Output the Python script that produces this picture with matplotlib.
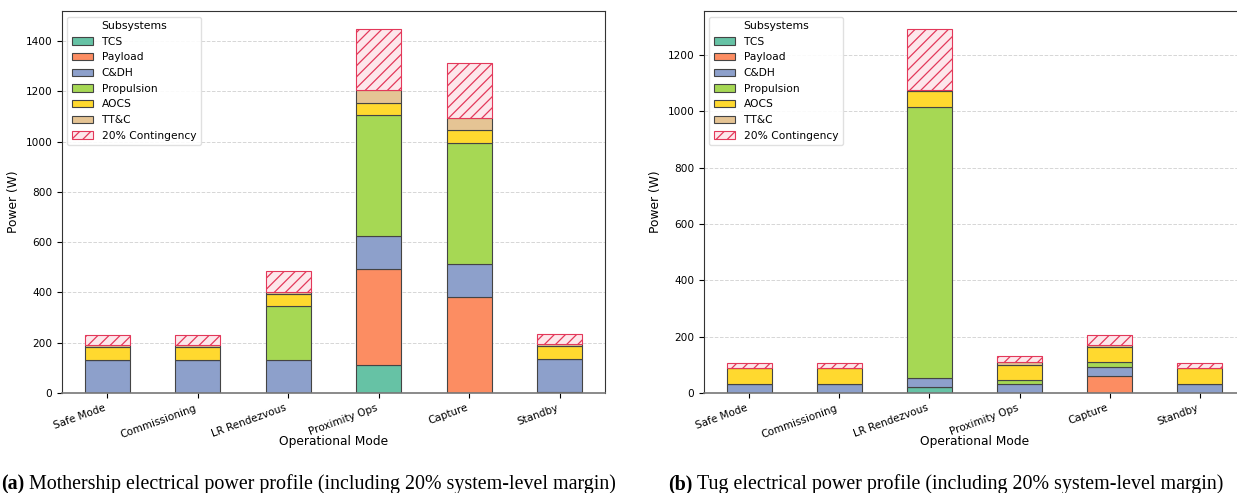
import numpy as np
import matplotlib
matplotlib.use("Agg")
import matplotlib.pyplot as plt
from matplotlib.patches import Patch

# Operational modes and subsystem breakdown (W)
modes = ["Safe Mode", "Commissioning", "LR Rendezvous", "Proximity Ops", "Capture", "Standby"]
subsystems = ["TCS", "Payload", "C&DH", "Propulsion", "AOCS", "TT&C"]
margin_fraction = 0.20

# Mothership
ms_tcs = [0, 0, 0, 110, 0, 3]
ms_payload = [0, 0, 0, 382, 382, 0]
ms_cdh = [133, 133, 133, 132, 133, 131]
ms_propulsion = [0, 0, 212, 481, 480, 0]
ms_aocs = [50, 50, 50, 50, 50, 52]
ms_ttc = [8, 8, 8, 50, 50, 9]

# Tug
tug_tcs = [0, 0, 22, 0, 0, 0]
tug_payload = [0, 0, 0, 0, 60, 0]
tug_cdh = [32, 32, 31, 32, 33, 32]
tug_propulsion = [0, 0, 963, 15, 16, 0]
tug_aocs = [56, 56, 56, 54, 55, 56]
tug_ttc = [2, 2, 3, 9, 8, 2]

colors = ["#66c2a5", "#fc8d62", "#8da0cb", "#a6d854", "#ffd92f", "#e5c494"]
cont_face = "#fde7eb"
cont_edge = "#e3385a"

plt.rcParams["hatch.linewidth"] = 0.9

W, H, DPI = 1237, 493, 100
fig = plt.figure(figsize=(W / DPI, H / DPI), dpi=DPI)


def power_panel(ax, layers):
    x = np.arange(len(modes))
    bottom = np.zeros(len(modes))
    for vals, col, name in zip(layers, colors, subsystems):
        vals = np.asarray(vals, dtype=float)
        ax.bar(x, vals, 0.5, bottom=bottom, color=col, edgecolor="#444444",
               linewidth=0.8, label=name, zorder=2)
        bottom += vals
    contingency = bottom * margin_fraction
    ax.bar(x, contingency, 0.5, bottom=bottom, facecolor=cont_face,
           edgecolor=cont_edge, hatch="///", linewidth=0.8, zorder=2)
    ax.set_xlim(-0.5, 5.5)
    ax.set_xticks(x)
    ax.set_xticklabels(modes, rotation=20, ha="right", fontsize=7.5)
    ax.tick_params(axis="y", labelsize=7.6)
    ax.set_xlabel("Operational Mode", fontsize=8.8, labelpad=-3)
    ax.set_ylabel("Power (W)", fontsize=8.8)
    ax.grid(axis="y", linestyle="--", color="#cccccc", linewidth=0.7, alpha=0.8)
    ax.set_axisbelow(True)
    for s in ax.spines.values():
        s.set_color("#333333")
    ax.spines["bottom"].set_color("#777777")
    ax.spines["bottom"].set_linewidth(1.2)
    handles = [Patch(facecolor=c, edgecolor="#444444", linewidth=0.8) for c in colors]
    handles.append(Patch(facecolor=cont_face, edgecolor=cont_edge, hatch="///", linewidth=0.8))
    labels = subsystems + ["20% Contingency"]
    ax.legend(handles, labels, title="Subsystems", loc="upper left", fontsize=7.7,
              title_fontsize=7.8, framealpha=0.9, edgecolor="#dddddd",
              handlelength=2.0, handleheight=0.7, labelspacing=0.53,
              borderpad=0.42)


ax1 = fig.add_axes([62 / W, 1 - 393 / H, (605 - 62) / W, (393 - 11.3) / H])
power_panel(ax1, [ms_tcs, ms_payload, ms_cdh, ms_propulsion, ms_aocs, ms_ttc])

ax2 = fig.add_axes([704 / W, 1 - 393 / H, (1245 - 704) / W, (393 - 11.3) / H])
power_panel(ax2, [tug_tcs, tug_payload, tug_cdh, tug_propulsion, tug_aocs, tug_ttc])

# Sub-captions: bold tag followed by regular text
renderer = fig.canvas.get_renderer()
cap_y = 1 - 484 / H
cap_font = dict(family="Liberation Serif", fontsize=14.4, va="center")


def caption(tag, body, x_left):
    t_tag = fig.text(x_left / W, cap_y, tag, ha="left", weight="bold", **cap_font)
    bb = t_tag.get_window_extent(renderer)
    fig.text((bb.x1 + 5) / W, cap_y, body, ha="left", **cap_font)


caption("(a)", "Mothership electrical power profile (including 20% system-level margin)", 1)
caption("(b)", "Tug electrical power profile (including 20% system-level margin)", 668)

fig.savefig("out.png", dpi=DPI)
